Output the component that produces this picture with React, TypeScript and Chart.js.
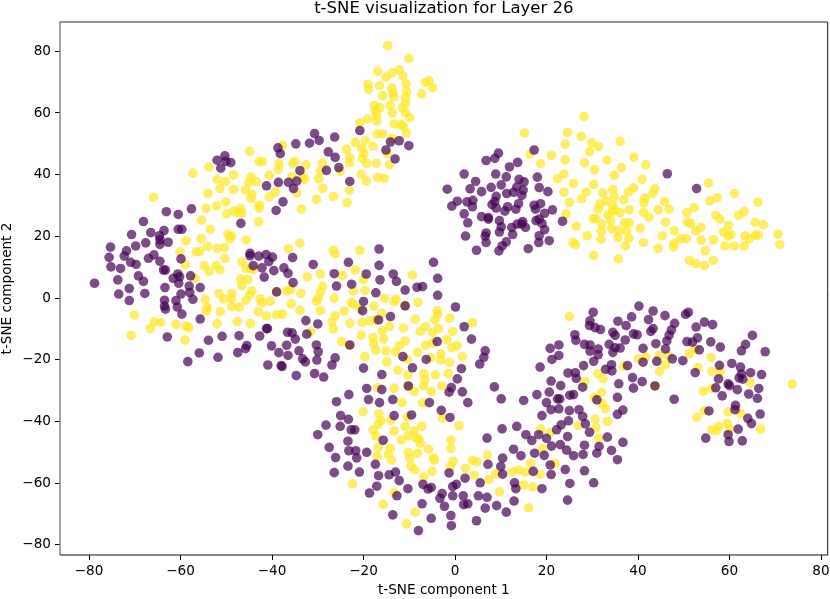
import React, { useEffect, useRef } from "react";
import { Chart, registerables } from "chart.js";

Chart.register(...registerables);

const titleText = "t-SNE visualization for Layer 26";
const xLabel = "t-SNE component 1";
const yLabel = "t-SNE component 2";
const tickValues = [-80, -60, -40, -20, 0, 20, 40, 60, 80];

const purplePoints: number[][] = [
[-20.8,54.3],[-30.7,53.3],[-26.3,52.2],[-29.7,51.1],[-34.8,50],[-31.8,50.2],[-38.7,48.7],[-38.2,46.8],[-27.7,47.4],[-26.2,45.6],
[-14.1,50.6],[-12.2,51],[-10.1,49.4],[-15.1,48],[-13.1,45.1],[-25.4,42.3],[-28.1,41.4],[-23,37.8],[-33.9,41.3],[-52,44.7],
[-50.3,46.1],[-50.1,44.3],[-49,43.9],[-51.2,42.1],[-41.2,36.4],[-38.6,37.5],[-36.4,37.5],[-34.6,37.9],[-35.3,35.5],[-37.6,31.2],
[-39.1,28.4],[-46.8,24.2],[-57.6,28.9],[-63.1,28],[-60.5,27.1],[-68.1,24.8],[-63.6,21.9],[-60.5,22.3],[-59.7,22.3],[-70.7,20.6],
[-66.5,21.2],[-64.6,20.2],[-64.5,18.9],[-62.7,18.1],[-64.5,17.4],[-67.6,17.9],[-69.8,16.9],[-75.3,16.5],[-71.8,15.3],[-72.3,13.6],
[-75.6,13.2],[-65.8,14],[-67,12.9],[-64.5,11.9],[-70.9,11.6],[-69.7,10.9],[-75.2,10.1],[-73.1,9.6],[-59.9,12.7],[-63.7,9.1],
[-63.3,9.1],[-69.2,7.2],[-68.1,5.4],[-73.7,5.9],[-78.8,4.8],[-61.6,6.4],[-60.6,7.8],[-60.2,6.9],[-60.4,4.8],[-57.8,7.2],
[-58.1,3.9],[-44.8,14.5],[-44.8,13.7],[-42.9,13.6],[-41.3,14.1],[-39.9,13.3],[-40.7,11.8],[-35.5,13.1],[-42.2,9.8],[-39.6,8.9],
[-37.4,9.8],[-36.5,8],[-41.7,6.8],[-35.4,5],[-31,10.9],[-23.3,11.6],[-16.6,15.9],[-16.6,10.6],[-4.7,11.6],[-26.4,7.9],
[-19.4,7.8],[-13.5,7.8],[-16.4,5.9],[-12.8,5.4],[-22.6,4.5],[-25.9,3.9],[-3.8,6.4],[-8.3,3.5],[-7.1,3.7],[-10.9,2.6],
[-44.1,10.5],[-71.2,3.1],[-55.7,3.4],[-63.4,3.4],
[-73.5,1.3],[-67.8,1.5],[-71.2,-0.8],[-59.9,1.3],[-58,1.8],[-57.3,-0.4],[-61,-0.8],[-63.5,-0.7],[-63.5,-2.6],
[-63.3,-3.6],[-60.7,-2.9],[-59.7,-5.2],[-55.7,-6.8],[-62.9,-12.6],[-53.9,-13.7],[-50.9,-12.4],[-47.2,-12.2],[-42.7,-12.3],[-41.2,-9.9],
[-41,-9.9],[-36.6,-11.1],[-35.6,-11.3],[-34.9,-13.3],[-32.6,-7.3],[-30,-8.4],[-32.4,-11.7],[-40.1,-15.5],[-36.8,-15.3],[-45.5,-15.4],
[-45.8,-16.4],[-47.5,-17.7],[-55.9,-17.8],[-51.8,-19.2],[-58.4,-20.6],[-38.5,-17.7],[-36.5,-18.6],[-34.1,-17.1],[-30.3,-15.2],[-29.9,-17.4],
[-30.2,-20.1],[-33.3,-19.7],[-32.7,-20.7],[-26.2,-19.4],[-26.9,-21.7],[-40.9,-21.7],[-38,-21.9],[-37.8,-22.2],[-30.7,-24.5],[-34.7,-25.1],
[-28.7,-25.6],[-39,2],[-23,-15.2],[-17.3,1.7],[-20,-1.1],[-20.2,-4.1],[-16.7,-7.1],[-14.1,-6],[-3.8,0.9],[-10.9,-2.5],
[0.1,-2.9],[-3.9,-14.1],[-11.4,-19],[-6.3,-19.9],[-9.3,-22.6],[-20,-22.7],[-16,-24.8],[0.5,-26.2],[-10.2,-28.5],[-16,-29.7],
[-19.3,-29.3],[-23.2,-31.3],[-25.9,-33.6],[-18.9,-32.9],[-16.5,-33.9],[-13.6,-32.9],[-0.8,-29],[-1.3,-30.5],[-5.6,-33.9],[-3,-36.4],
[-13.3,-38.1],[-9.5,-37.9],[-1.1,-38.7],[-25,-38.1],[-23.3,-39.3],[-28.2,-41.2],[-25.1,-41.6],
[1.6,-30.4],[2.8,-33.9],[8.6,-28.8],[10.1,-32.7],[10.3,-42.4],[13.5,-41.6],[-30,-44.3],
[-22.7,-42.7],[-21.9,-42.7],[-23.4,-46.4],[-27.5,-48.4],[-23.2,-49.5],[-21.7,-49.5],[-19.3,-50],[-26.1,-51.7],[-21.5,-51.8],[-15.7,-46.1],
[-23.4,-54.5],[-26.4,-56.6],[-20.9,-56.4],[-17.4,-53.9],[-16.7,-57.6],[-14.4,-57.3],[-13,-56.4],[-12.2,-59.2],[-17.1,-61],[-18.7,-63.2],
[-12.7,-64.1],[-10.3,-61.8],[-7,-60.4],[-5.9,-61.9],[-5.2,-61.4],[-1.3,-56.7],[-2.8,-63.4],[-3.3,-64.9],[-7.2,-66.7],[-2.3,-67.5],
[-13.6,-70.3],[-5.2,-71.4],[-0.9,-70.5],[-0.8,-73.8],[-8,-75.4],[-0.5,-61.1],[0.3,-60.4],[-0.5,-64.1],[1.8,-64.1],[2.2,-58.4],
[5.5,-59.9],[1.9,-67],[2.8,-66.7],[4.7,-72.2],[5.1,-64.1],[7,-64.6],[6.6,-68.1],[9.1,-67.3],[11.2,-69.4],[12.9,-65.8],
[13.3,-61.8],[13,-59.9],[19,-61.8],[24.6,-65.5],[25.1,-60.1],[30.3,-59.9],[7,-45.4],[7.2,-53.9],[10.4,-51.9],[10,-54.6],
[10.4,-57.1],[12.8,-49],[14.4,-51.1],[17.4,-50.3],[19.5,-51],[20.8,-54.1],[17.1,-56.2],[21,-57.2],[24.1,-55.6],[28.3,-56],
[25.9,-51.1],[28,-50.7],[24.4,-49.3],[31,-50.3],[28.3,-47.7],[23,-47.5],[21.1,-48],[16.8,-46.2],[15.5,-44.3],[20,-45.5],
[18.3,-44.3],[22.2,-42.7],[23.2,-41.1],[24.8,-39.8],[25,-36.5],[27.1,-36.2],[27.9,-38.4],[28.5,-40.8],[29.4,-43.5],[22.7,-35.9],
[21,-36.2],[19,-38.1],[20,-33.9],[17.9,-31.3],[20.6,-30.5],[21,-26.9],[23.1,-28.4],[22.4,-32.7],[22.9,-32.7],[25.1,-31.5],
[25.9,-31.3],[27.9,-28.9],[24.7,-24.3],[26.3,-24.2],[26.5,-26],[15,-33.2],
[40.2,-2.6],[43.3,-4.2],[45.9,-5.7],[51,-4.6],[50.4,-5.3],[30.2,-4.6],[38.6,-6.1],[35.6,-7.5],[42.3,-7],[29.5,-7.4],
[29.4,-8.9],[37.4,-8.9],[30.6,-9.6],[31.8,-10.2],[48,-8.2],[52.7,-9.4],[54.5,-7.8],[56.3,-8.6],[65,-12.1],[47.3,-10.3],
[43.3,-9.9],[42.8,-10.8],[46.8,-12],[34.5,-11.1],[35,-12.1],[39,-11.6],[39.8,-11.9],[26.2,-11.9],[26.4,-13.7],[53,-12.9],
[37.2,-13.6],[46.3,-13.9],[50.7,-14.1],[51.9,-14.3],[55.9,-14.2],[63.5,-15],[62.6,-17.1],[67.8,-17.4],[58,-15.9],[53.4,-16.8],
[28.3,-15],[29.5,-15.2],[22.7,-15.2],[20.8,-16.3],[22.7,-18.6],[21.2,-19.9],[18.6,-22.4],[33.7,-15],[31.3,-16.5],[29.5,-17.2],
[31.3,-18.4],[35,-16.1],[36.1,-16.2],[34.5,-17.6],[41.1,-16.3],[43.9,-14.8],[46,-16.5],[47.5,-19.7],[49.8,-20.3],[44.1,-20.5],
[41.1,-20.8],[30.3,-20.5],[28.1,-21.9],[34.2,-21.6],[32.9,-23.1],[34.3,-23.6],[37.7,-21.9],[52.5,-24.2],[57.8,-21.8],[60.5,-21.2],
[62.4,-22.4],[64.6,-24.2],[67,-24.8],[62.6,-24.6],[62.1,-25.9],[62.9,-26.3],[57.6,-26.2],[38.8,-25.8],[35.8,-27.8],[40.9,-27.1],
[39,-29.2],[43.7,-28.5],[59.7,-27.8],[60,-28.4],[57,-29.1],[61.7,-29.7],[66.4,-29.3],[64.2,-31.1],[58.4,-31.7],[66.1,-32.5],
[35.5,-32.2],[47.9,-32.8],[31,-33],[24.6,-44.9],[33.3,-45.1],[31.5,-48.1],[36.7,-46.8],[34.2,-49.4],[35.5,-52.4],
[35.5,-37.7],[36.7,-36.3],[61.3,-34.8],[61.2,-36.2],[55.5,-36.6],[66.7,-37.6],[64,-39],[64.8,-40.7],[61.9,-42.5],[59.7,-44.3],
[59.9,-46.5],[62.8,-46.3],[54.8,-45.4],
[2,-9.3],[3.6,-13.3],[6.6,-17.1],[6.3,-19.2],[5.4,-21.4],[1.4,-22.9],
[17.3,48],[9.5,47],[8.7,45.3],[6.8,44.6],[13.7,44],[11.9,42.5],[2,40.2],[8.9,40.2],[11.2,39.3],[18,39.2],
[4.5,37.8],[14,38.5],[15.1,37.7],[-1.7,35.3],[3.3,35.4],[7.9,35.9],[10.1,36.7],[13.5,36],[18.4,35.8],[20.3,34.5],
[5.8,34.5],[14.9,35],[12.8,34.3],[11.3,33.9],[14.6,33.3],[9,33],[3.9,31.7],[0.5,31.4],[2.6,31.2],[-0.7,29.8],
[3.8,29.6],[8.7,31.3],[8.1,30.3],[13.9,30.6],[11.5,29.6],[9,29.2],[17.3,30.1],[18.7,30.6],[13.3,28.8],[10.9,28.2],
[17.6,28.8],[21.3,28.6],[19.6,27.5],[2,27.3],[5.8,26.4],[7.3,26.1],[7.3,25.6],[2.8,24.4],[9.7,25.1],[18.4,25.6],
[17.7,25.1],[23.5,24.9],[14.8,24.8],[19,24.2],[13.6,24],[14.6,24],[10.1,23.1],[12.4,22.9],[15.4,22.9],[19.6,22.2],
[6.8,21.1],[9.7,21.4],[12.6,20.6],[6.6,20.1],[2.3,20.1],[18.4,20.2],[20.6,18.6],[18.3,18],[6.8,18],[11.2,18.2],
[10.3,16.9],[4.7,15.5],[9.6,15.3],[16,16],[46.4,40.3],[52.8,35.5],
];

const yellowPoints: number[][] = [
[-14.7,81.8],[-10.1,77.7],[-16.9,73.5],[-13.8,73],[-15.1,71.6],[-12.2,74],[-11.4,72],[-19,69.4],[-18.9,67.7],[-16.5,68.9],
[-10.7,69.5],[-13.8,68.1],[-13.6,66.5],[-10.6,67],[-15.8,65.6],[-13.4,65.2],[-10.8,65],[-10.8,63.2],[-6.5,69.9],[-5.7,70.5],
[-4.9,68.2],[-7.3,66.2],[-14.2,62.5],[-17.6,62.4],[-16.4,61.7],[-11.5,61.7],[-17.4,60.6],[-10.8,60.1],[-17.1,59.2],[-13.7,60],
[-19.1,58.1],[-20.8,56.8],[-17.1,57.4],[-9.9,58.5],[-13.3,56.5],[-11.9,56.3],[-11.3,55.7],[-10.6,53.5],[-17,53.2],[-15.8,53.2],
[-13.8,51.8],[-21.8,50.5],[-19.6,51.1],[-23.7,48.2],[-17.9,49.2],[-20.4,48.5],[-19.9,46.8],[-14.8,46.8],[-23,45.5],[-20.2,45.2],
[-19.3,43.7],[-23.1,43.8],[-17.2,43.7],[-14.3,43.2],[-25.1,41.1],[-20.5,40.2],[-16.9,39.1],[-15.5,38.8],[-19.4,38],[-23.1,34.9],
[-28.9,35.6],[-26.6,32.9],[-23.6,30.9],[-30.3,32],[-33.6,28.8],[-37.7,49.5],[-44.9,47.6],[-42.8,44.2],[-42.1,44.2],[-38.5,43.6],
[-38.6,41.7],[-35.1,44.3],[-35.4,43.6],[-32.6,43.2],[-29,43.8],[-29.4,41.2],[-29.8,38.7],[-32.8,38.5],[-33.2,39.3],[-35.6,39.5],
[-40.6,39.8],[-53.8,42.4],[-57.3,40.5],[-48.4,39.9],[-52,38.5],[-50.2,37.8],[-44.6,39.2],[-45.1,37.4],[-43.4,37.7],[-51.4,35.5],
[-48.4,35.2],[-45.8,35.1],[-54,33.9],[-44.4,33.6],[-44.6,32.3],[-39.3,34.3],[-40.6,32.8],[-34.6,34.1],[-65.9,32.7],[-50.1,31.2],
[-52.1,29.9],[-54.4,29.1],[-42.8,30.1],[-42.8,29.2],[-46.9,29],[-48.4,28.2],[-49.9,27.3],[-47.3,27.7],[-46.6,27.6],[-55.4,25.3],
[-42.9,24.7],[-53.5,22.3],[-49.6,20.7],[-48.9,20.1],[-49.2,19.2],[-45.6,18.8],[-58.8,18.6],[-55.5,19.3],[-33.9,17.8],[-54.1,16.7],
[-36.4,16],[-52,16.1],[-50.4,16.4],[-56.6,15],[-55.8,15.1],[-60.1,15],[-26.6,15.5],[-26.2,14.3],[-20.8,15.5],[-50.3,12.9],
[-46.6,11.7],[-59,10.9],[-54.8,10.5],[-52.2,10.5],[-53.8,8.6],[-51.4,9.2],[-45.7,9.6],[-44.7,9.6],[-44.1,9.3],[-21.8,9.1],
[-29.4,7.8],[-24.6,7.4],[-32.3,6.9],[-9.3,7.5],[-20,6.1],[-46.9,6.2],[-45.3,6],[-56.8,6.4],[-46.6,4],[-28.9,3.9],
[-51.6,1.5],[-48.8,1.5],[-50.6,-0.3],[-48.8,-0.2],[-44.4,2.3],[-44.9,1],[-45.7,-0.7],[-54.6,-0.4],[-42.6,-0.3],[-42.1,-1.4],
[-40.4,-1],[-36.8,2.3],[-35.9,2.8],[-33.7,1.5],[-39,2],[-48.8,-2.7],[-47.2,-2.9],[-54.2,-3],[-54.3,-4.2],[-51.3,-4.4],
[-43,-4.4],[-35.8,-1.9],[-33.9,-4],[-29.4,1.9],[-29.9,-0.1],[-30.3,-1],[-26.4,0],[-22.2,2.3],[-19.7,2.4],[-29.4,-4.1],
[-22.7,-1.4],[-22.2,-1.9],[-20.7,-3.4],[-24.2,-4.2],[-17.7,-2.6],[-15.4,-0.1],[-12.9,-0.4],[-13.3,-1.2],[-8.1,-1.4],[-16,-4.9],
[-70.1,-5.5],[-41.2,-5.8],[-39,-5.4],[-37.7,-5.2],[-26.2,-5.8],[-10.9,-2.6],[-65.7,-7.7],[-64.3,-7.9],[-47.6,-7.6],[-52,-8.3],
[-61,-8.5],[-58.8,-9.1],[-58.2,-9.6],[-44.7,-8.3],[-66.6,-9.9],[-26.9,-7.7],[-23,-8.2],[-20.3,-7.9],[-18.6,-7.4],[-17.3,-7.1],
[-26.6,-10],[-31.5,-10.9],[-8.7,-6.8],[-11.3,-9.7],[-14.3,-9.2],[-15.9,-10.6],[-6.5,-9.3],[-7.6,-10.9],[-3.6,-9.9],[-4.9,-11.2],
[-0.5,-10.8],[-1.2,-6.5],[-4.4,-7.1],[-3.9,-4.1],[-3.8,-5.2],[-70.8,-12.1],[-59,-13.6],[-20.5,-12.1],[-17.9,-12.8],[-15.6,-13.3],
[-17.8,-14.7],[-10.9,-13.9],[-12.2,-15.4],[-24.8,-14.1],[-23,-15.3],[-17.3,-16.9],[-15.1,-17.1],[-13,-17.5],[-8.2,-17.6],[-6.4,-15.3],
[-4.9,-14.6],[-1.8,-13.5],[-0.7,-16.1],[0.4,-15.4],[-3.1,-18.1],[-3.1,-20.1],[-5.3,-19.4],[-19.7,-19],[-14.9,-20.7],[-10.4,-19.9],
[-1.2,-20.9],[-12.5,-23.4],[-10.3,-25],[-6.8,-24.5],[-6.6,-26.4],[-4.3,-24.9],[-1.5,-24.5],[-6.9,-28.5],[-2.9,-28.5],[-16.9,-29],
[-13.3,-29.2],[-8.9,-30.3],[-5.2,-30.3],[-10.3,-28.5],[-11.6,-33.9],[-7.1,-34],[-20.1,-36.8],[-16.6,-37.5],[-10.4,-38.6],[-2.8,-38.9],
[-14,-39.6],[-16.2,-39.7],[-16.8,-40.9],[-10.9,-41.6],[-7.3,-41.6],[-17.9,-42.7],
[-17.3,-44.7],[-13.3,-43.1],[-11.7,-46],[-10.2,-44.6],[-9,-43],[-8.6,-45.2],[-7.9,-45.7],[-7.6,-47.1],[-0.9,-46],[-0.9,-48.8],
[-16.8,-48.4],[-14.2,-48.7],[-14.6,-50.7],[-17,-51.3],[-13.9,-52.6],[-10.2,-50],[-8.2,-50.3],[-5.8,-49],[-9.9,-51.9],[-4.7,-51.9],
[-4.5,-52.5],[-9.6,-54.5],[-8.8,-55.6],[-5,-56.2],[-1,-54.6],[-0.4,-52.9],[-6.8,-58],[2.3,-55.2],[3.8,-52.6],[4.8,-53.1],
[7.1,-50.9],[4.2,-57.4],[7.4,-58.8],[8.9,-57],[12.5,-56.3],[13.9,-55.8],[15.4,-56.4],[16.5,-53.6],[18.6,-57.1],[21.8,-53.6],
[19.1,-48.8],[15,-60.6],[17,-61.2],[9.7,-62.8],[-22.4,-60.2],[-13.3,-63.1],[-15.7,-66.9],[-8.7,-69.4],[-10.6,-73.2],[16.1,-68],
[0.9,-41.4],[18.7,-42.5],[20.8,-43.6],[26.9,-41.3],
[25,-6],[40.1,-19.7],[41.7,-19.1],[44.6,-18.6],[46.6,-18.6],[46,-21.6],[44.7,-23.8],[36.8,-22.1],[31.2,-24.5],[32.4,-26.2],
[28.4,-27],[43.7,-28.5],[51.2,-18],[52.4,-16.6],[56,-19.3],[53.1,-22.5],[56.1,-23.8],[58,-23.8],[64.5,-27.4],[73.7,-27.9],
[56.1,-29.3],[54.3,-30.2],[54.5,-36.5],[52.9,-38.7],[59.7,-36.9],[62.4,-37.5],[59.5,-40.7],[57.6,-41.6],[56.1,-42.7],[57.2,-43],
[60,-42.4],[66.8,-42.5],[32,-30.6],[30.4,-32.2],[32.2,-34.2],[32.9,-35.9],[33.3,-40],[30.6,-39.3],[30.8,-42],[31.4,-45.4],
[3.8,-8],[1.6,-19],
[28.2,58.9],[15.2,53.5],[24.6,53.7],[27.6,52.4],[24.1,49.9],[29.9,50.3],[31.4,49.1],[36.1,50.8],[29.4,47.5],[16.4,46.6],
[21.1,46.3],[18.7,43.6],[24.1,44.8],[28.3,43.8],[33.2,44.7],[39.1,45.7],[41.7,43.2],[30.5,41.6],[36.4,42.3],[34.8,39.8],
[22.4,38.7],[23.8,40.2],[40.9,38.5],[25.9,37.1],[30.3,36.9],[55.4,37.3],[23.8,34.3],[28.7,34.4],[34.5,35.2],[39,35.7],
[43.7,35.5],[32.3,34.1],[37.9,34.4],[43.2,33.9],[61.1,33.9],[34.8,32.8],[27.7,32.2],[41.5,32.4],[36.9,31.9],[25,31],
[33,31.4],[31.7,30.5],[41.3,30.9],[45.8,31.3],[55.7,31.5],[57.3,32.5],[66.2,31.1],[34.5,30],[31.3,28.8],[46.8,28.8],
[38.1,28.6],[44.4,28.6],[52.3,29.3],[35,28.5],[34.4,28],[36.1,27.7],[33.4,27],[41.2,27.8],[50.7,27.7],[63.2,28.1],
[24.3,27.3],[62,26.8],[57,26.8],[57.9,25.6],[30.2,25.7],[30.8,25.7],[42.4,26.2],[34,25.2],[46,24.6],[65.6,24.6],
[67.4,23.8],[50.8,24.6],[51.5,24.2],[59.8,23.6],[32.1,24],[37,24.4],[38.1,24.4],[26.5,23.3],[40.5,22.6],[53.7,22.9],
[34.2,22.6],[32,21.7],[35.7,21.8],[37.5,21.9],[47.9,21.8],[52.6,21.8],[58.7,21.4],[70.6,20.7],[60.3,20.6],[59.7,20.1],
[63.4,20.2],[65.6,20.4],[66.3,20.4],[45.3,20.2],[28.9,20.2],[35.6,19.6],[38,19.4],[31.9,19],[49.3,19.2],[50.6,19.3],
[56.5,18.9],[53.8,18.8],[64.3,19.2],[41.2,18],[25.8,18.1],[26.3,17.3],[47.9,17.7],[47.8,16.6],[37.2,16.9],[59,16.9],
[61,16.9],[63.2,16.9],[71,17.3],[44.4,16.1],[54.7,15.3],[30.3,13.8],[35.7,12.7],[51.2,12.2],[56.5,12.2],[52.6,11.2],
[54.5,10.5],
];

const toXY = (pts: number[][]) => pts.map(([x, y]) => ({ x, y }));
const FONT = "'DejaVu Sans'";

const framePlugin = {
  id: "frame",
  afterDatasetsDraw(chart: any) {
    const { ctx, chartArea: a } = chart;
    ctx.save();
    ctx.lineWidth = 1.3;
    ctx.strokeStyle = "#707070";
    ctx.beginPath();
    ctx.moveTo(a.left, a.bottom);
    ctx.lineTo(a.left, a.top);
    ctx.lineTo(a.right, a.top);
    ctx.stroke();
    ctx.lineWidth = 1;
    ctx.strokeStyle = "#111";
    ctx.beginPath();
    ctx.moveTo(a.left, a.bottom);
    ctx.lineTo(a.right, a.bottom);
    ctx.lineTo(a.right, a.top);
    ctx.stroke();
    ctx.restore();
  },
};

const clearPadding = (s: any) => {
  s.paddingLeft = 0;
  s.paddingRight = 0;
  s.paddingTop = 0;
  s.paddingBottom = 0;
};

export default function App() {
  const ref = useRef<HTMLCanvasElement>(null);
  useEffect(() => {
    const chart = new Chart(ref.current!, {
      type: "scatter",
      data: {
        datasets: [
          { data: toXY(purplePoints), backgroundColor: "rgba(68,1,84,0.7)", borderWidth: 0, pointRadius: 4.8 },
          { data: toXY(yellowPoints), backgroundColor: "rgba(253,231,37,0.7)", borderWidth: 0, pointRadius: 4.8 },
        ],
      },
      options: {
        responsive: false,
        animation: false,
        layout: { autoPadding: false, padding: { top: 0, right: 2.3, bottom: 0, left: 0 } },
        plugins: {
          legend: { display: false },
          tooltip: { enabled: false },
          title: {
            display: true,
            fullSize: false,
            text: titleText,
            color: "#000",
            font: { family: FONT, size: 16.5, weight: "normal", lineHeight: 1 },
            padding: { top: 0, bottom: 5.5 },
          },
        },
        scales: {
          x: {
            type: "linear",
            min: -86.34,
            max: 81.46,
            afterBuildTicks: (s: any) => { s.ticks = tickValues.map((value) => ({ value })); },
            afterFit: (s: any) => { s.height = 44; clearPadding(s); },
            grid: { drawOnChartArea: false, drawTicks: true, tickLength: 5, tickColor: "#000", tickWidth: 1 },
            border: { display: false },
            ticks: {
              color: "#000",
              padding: 3,
              maxRotation: 0,
              font: { family: FONT, size: 13.6 },
              callback: (v: any) => String(v).replace("-", "\u2212"),
            },
            title: { display: true, text: xLabel, color: "#000", font: { family: FONT, size: 13.6, lineHeight: 1 }, padding: { top: 2, bottom: 2.2 } },
          },
          y: {
            type: "linear",
            min: -83.3,
            max: 89.5,
            afterBuildTicks: (s: any) => { s.ticks = tickValues.map((value) => ({ value })); },
            afterFit: (s: any) => { s.width = 60; clearPadding(s); },
            grid: { drawOnChartArea: false, drawTicks: true, tickLength: 5, tickColor: "#000", tickWidth: 1 },
            border: { display: false },
            ticks: {
              color: "#000",
              padding: 4,
              font: { family: FONT, size: 13.6 },
              callback: (v: any) => String(v).replace("-", "\u2212"),
            },
            title: { display: true, text: yLabel, color: "#000", font: { family: FONT, size: 13.6, lineHeight: 1 }, padding: { top: 0.2, bottom: 2 } },
          },
        },
      },
      plugins: [framePlugin],
    } as any);
    return () => chart.destroy();
  }, []);
  return (
    <div style={{ position: "fixed", left: 0, top: 0, width: 830, height: 599, background: "#fff" }}>
      <canvas ref={ref} width={830} height={599} style={{ display: "block" }} />
    </div>
  );
}
